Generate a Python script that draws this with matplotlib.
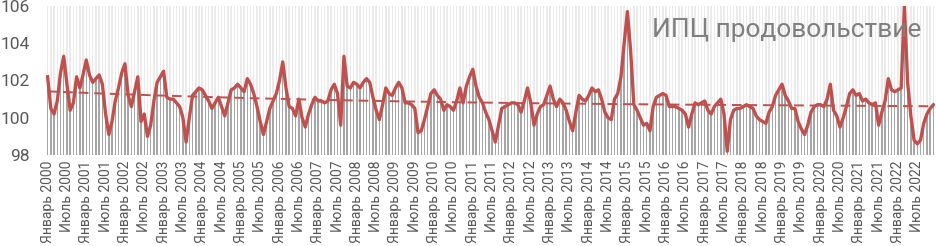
import matplotlib.pyplot as plt
import numpy as np

# ИПЦ продовольствие, % к предыдущему месяцу, январь 2000 - декабрь 2022
years = list(range(2000, 2023))
month_names = ['Январь', 'Июль']
cpi = [
    102.2, 100.5, 100.2, 100.9, 102.4, 103.3, 101.8, 100.4, 100.8, 102.2, 101.6, 102.3,  # 2000
    103.1, 102.3, 101.9, 102.1, 102.3, 101.8, 100.2, 99.1, 99.8, 100.9, 101.6, 102.4,  # 2001
    102.9, 101.2, 100.6, 101.4, 102.2, 99.8, 100.2, 99.0, 99.6, 100.9, 101.9, 102.2,  # 2002
    102.5, 101.1, 101.0, 101.0, 100.8, 100.6, 100.0, 98.7, 100.0, 101.2, 101.4, 101.6,  # 2003
    101.5, 101.2, 100.9, 100.5, 100.8, 101.1, 100.6, 100.1, 100.8, 101.5, 101.6, 101.8,  # 2004
    101.6, 101.4, 102.1, 101.8, 101.3, 100.6, 99.8, 99.1, 99.8, 100.5, 100.9, 101.3,  # 2005
    102.0, 103.0, 101.6, 100.6, 100.5, 100.1, 101.0, 100.0, 99.5, 100.2, 100.7, 101.1,  # 2006
    100.9, 100.9, 100.8, 100.9, 101.5, 101.8, 101.3, 99.6, 103.3, 101.7, 101.6, 101.9,  # 2007
    101.8, 101.6, 101.9, 102.1, 101.9, 101.1, 100.4, 99.9, 100.7, 101.6, 101.3, 101.2,  # 2008
    101.6, 101.9, 101.6, 100.8, 100.8, 100.7, 100.5, 99.2, 99.3, 99.9, 100.6, 101.3,  # 2009
    101.5, 101.2, 101.0, 100.4, 100.7, 100.6, 100.4, 100.9, 101.6, 100.8, 101.7, 102.2,  # 2010
    102.6, 101.7, 101.1, 100.8, 100.3, 99.9, 99.3, 98.7, 99.6, 100.5, 100.6, 100.7,  # 2011
    100.8, 100.8, 100.7, 100.3, 100.9, 101.6, 100.8, 99.6, 100.2, 100.6, 100.7, 101.2,  # 2012
    101.7, 101.0, 100.6, 101.0, 100.8, 100.4, 99.8, 99.3, 100.3, 101.2, 101.0, 100.9,  # 2013
    101.2, 101.6, 101.4, 101.5, 101.0, 100.3, 100.0, 99.9, 101.0, 101.3, 102.2, 104.0,  # 2014
    105.7, 103.6, 100.7, 100.4, 100.0, 99.6, 99.7, 99.3, 100.6, 101.1, 101.2, 101.3,  # 2015
    101.2, 100.6, 100.6, 100.6, 100.5, 100.4, 100.2, 99.5, 100.2, 100.8, 100.7, 100.8,  # 2016
    100.9, 100.4, 100.2, 100.6, 100.8, 101.0, 100.2, 98.2, 99.9, 100.4, 100.5, 100.5,  # 2017
    100.6, 100.7, 100.6, 100.5, 100.1, 99.9, 99.8, 99.7, 100.3, 100.6, 101.2, 101.5,  # 2018
    101.8, 101.2, 100.9, 100.5, 100.5, 99.8, 99.4, 99.1, 99.6, 100.3, 100.6, 100.7,  # 2019
    100.7, 100.6, 101.0, 101.8, 100.4, 100.1, 99.5, 100.0, 100.6, 101.3, 101.5, 101.2,  # 2020
    101.3, 100.9, 101.0, 100.8, 100.7, 100.8, 99.6, 100.3, 100.9, 102.1, 101.5, 101.4,  # 2021
    101.5, 101.6, 106.0, 101.9, 100.1, 98.8, 98.6, 98.8, 99.7, 100.2, 100.5, 100.7,  # 2022
]

y_min = 98
y_max = 106

plt.rcParams['font.family'] = ['Roboto', 'DejaVu Sans']
fig = plt.figure(figsize=(9.36, 2.46), dpi=100)
ax = fig.add_axes([46/936, 1 - 155/246, 889/936, 149/246])

x = np.arange(len(cpi))
vals = np.array(cpi)

# светлые полосы на всю высоту и серые столбики от 98
ax.bar(x, [y_max - y_min]*len(x), bottom=y_min, width=0.45, color='#ebebeb', zorder=1)
ax.bar(x, vals - y_min, bottom=y_min, width=0.45, color='#a6a6a6', zorder=2)

# линия и полиномиальный тренд
ax.plot(x, vals, color='#c0504d', lw=2.4, zorder=4, solid_joinstyle='round')
coef = np.polyfit(x, vals, 3)
ax.plot(x, np.polyval(coef, x), color='#c0504d', lw=1.4, ls=(0, (5, 3)), zorder=3)

ax.set_xlim(-0.5, len(cpi) - 0.5)
ax.set_ylim(y_min, y_max)
ax.set_yticks(range(y_min, y_max + 1, 2))

labels = [m + ' ' + str(yr) for yr in years for m in month_names]
ax.set_xticks(range(0, len(labels)*6, 6))
ax.set_xticklabels(labels, rotation=90, fontsize=10, color='#595959')
ax.tick_params(axis='y', labelsize=12.5, colors='#595959', length=0, pad=12)
ax.tick_params(axis='x', length=0, pad=4)
for s in ax.spines.values():
    s.set_visible(False)

ax.text(0.985, 0.84, 'ИПЦ продовольствие', transform=ax.transAxes, ha='right', va='center',
        fontsize=19, color='#7f7f7f', zorder=5)

plt.savefig('out.png', dpi=100)
